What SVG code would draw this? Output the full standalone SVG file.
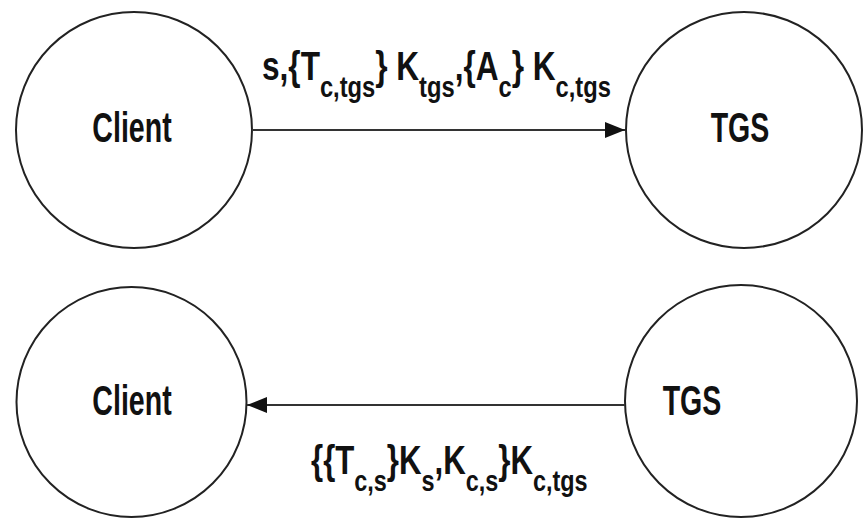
<svg xmlns="http://www.w3.org/2000/svg" width="868" height="518" viewBox="0 0 868 518">
  <style>
    .node { fill: #ffffff; stroke: #222222; stroke-width: 2; }
    .name { font-family: "Liberation Sans", Arial, sans-serif; font-weight: bold; font-size: 42px; fill: #111111; text-anchor: middle; }
    .msg { font-family: "Liberation Sans", Arial, sans-serif; font-weight: bold; font-size: 40px; fill: #111111; }
    .sub { font-size: 30px; }
    .wire { fill: none; stroke: #333333; stroke-width: 2; }
  </style>
  <defs>
    <marker id="head" viewBox="0 0 20 16" refX="20" refY="8" markerWidth="20" markerHeight="16" markerUnits="userSpaceOnUse" orient="auto">
      <path d="M0,0 L20,8 L0,16 Z" fill="#111111"/>
    </marker>
  </defs>
  <rect width="868" height="518" fill="#ffffff"/>

  <g id="client-top">
    <circle class="node" cx="134" cy="130" r="118"/>
    <text class="name" transform="translate(132,142) scale(0.68,1)">Client</text>
  </g>
  <g id="tgs-top">
    <circle class="node" cx="744" cy="130" r="118"/>
    <text class="name" transform="translate(740,142) scale(0.68,1)">TGS</text>
  </g>
  <g id="client-bottom">
    <circle class="node" cx="131.5" cy="402" r="115"/>
    <text class="name" transform="translate(132,415) scale(0.68,1)">Client</text>
  </g>
  <g id="tgs-bottom">
    <circle class="node" cx="741" cy="401" r="116"/>
    <text class="name" transform="translate(692,415) scale(0.68,1)">TGS</text>
  </g>

  <g id="connectors">
    <line class="wire" x1="252" y1="130" x2="625" y2="130" marker-end="url(#head)"/>
    <line class="wire" x1="625" y1="405" x2="247" y2="405" marker-end="url(#head)"/>
    <text class="msg" transform="translate(262,80) scale(0.79,1)">s,{T<tspan class="sub" dy="17">c,tgs</tspan><tspan dy="-17">} K</tspan><tspan class="sub" dy="17">tgs</tspan><tspan dy="-17">,{A</tspan><tspan class="sub" dy="17">c</tspan><tspan dy="-17">} K</tspan><tspan class="sub" dy="17">c,tgs</tspan></text>
    <text class="msg" transform="translate(311,474) scale(0.78,1)">{{T<tspan class="sub" dy="17">c,s</tspan><tspan dy="-17">}K</tspan><tspan class="sub" dy="17">s</tspan><tspan dy="-17">,K</tspan><tspan class="sub" dy="17">c,s</tspan><tspan dy="-17">}K</tspan><tspan class="sub" dy="17">c,tgs</tspan></text>
  </g>
</svg>
